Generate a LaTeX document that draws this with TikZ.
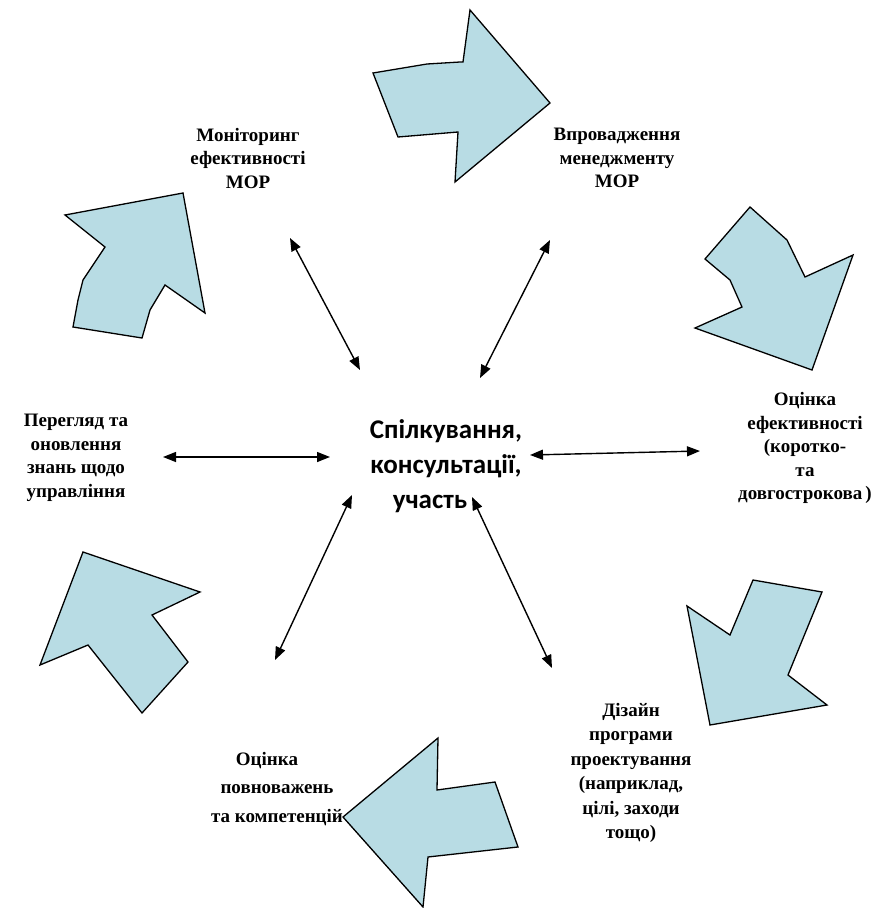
\documentclass[tikz,border=0pt]{standalone}
\usepackage{fontspec}
\setmainfont{Liberation Serif}
\newfontfamily\cfont{Carlito}
\usetikzlibrary{arrows.meta}
\definecolor{arrfill}{RGB}{184,220,228}
\begin{document}
\begin{tikzpicture}[x=1pt,y=-1pt,
 bigarrow/.style={fill=arrfill,draw=black,line width=1.3pt,line join=miter},
 lab/.style={font=\bfseries\fontsize{19}{23.5}\selectfont,align=center,inner sep=0pt},
 link/.style={{Triangle[length=13pt,width=10pt]}-{Triangle[length=13pt,width=10pt]},line width=1.4pt}]
\useasboundingbox (0,0) rectangle (896,908);
% big block arrows
\draw[bigarrow] (373,73) -- (427,64) -- (460,62) -- (463,62) -- (470,10) -- (550,103) -- (455,182) -- (458,132) -- (398,137) -- cycle;
\draw[bigarrow] (750,207) -- (787,240) -- (805,277) -- (853,255) -- (812,370) -- (695,328) -- (742,307) -- (730,280) -- (705,259) -- cycle;
\draw[bigarrow] (753,580) -- (822,592) -- (788,675) -- (827,705) -- (710,725) -- (687,606) -- (730,635) -- cycle;
\draw[bigarrow] (343,817) -- (438,738) -- (437,790) -- (495,782) -- (518,847) -- (428,857) -- (423,907) -- cycle;
\draw[bigarrow] (83,552) -- (200,592) -- (152,615) -- (188,662) -- (142,713) -- (88,645) -- (40,665) -- cycle;
\draw[bigarrow] (65,215) -- (183,193) -- (205,313) -- (165,285) -- (150,310) -- (142,338) -- (73,327) -- (78,300) -- (83,280) -- (105,247) -- cycle;
% labels
\node[lab] (mon) at (248,158) {Моніторинг\\ефективності\\МОР};
\node[lab] (vpr) at (617,158) {Впровадження\\менеджменту\\МОР};
\node[lab] (ots) at (805,448) {Оцінка\\ефективності\\(коротко-\\та\\довгострокова\,)};
\node[lab] (per) at (76,458) {Перегляд та\\оновлення\\знань щодо\\управління};
\node[lab,font=\bfseries\fontsize{19}{24.5}\selectfont] (diz) at (631,773) {Дізайн\\програми\\проектування\\(наприклад,\\цілі, заходи\\тощо)};
\node[lab,font=\bfseries\fontsize{19}{28.5}\selectfont] (pov) at (277,789) {Оцінка\hspace*{20pt}\\повноважень\\та компетенцій};
\node[font=\cfont\bfseries\fontsize{27}{35}\selectfont,align=center,inner sep=0pt] (cen) at (446,466) {Спілкування,\\консультації,\\участь\hspace*{32pt}};
% connectors
\coordinate (m1) at (290,238); \coordinate (m2) at (360,370);
\coordinate (v1) at (550,240); \coordinate (v2) at (480,378);
\coordinate (p1) at (163,457); \coordinate (p2) at (330,457);
\coordinate (o1) at (530,455); \coordinate (o2) at (700,451);
\coordinate (k1) at (352,495); \coordinate (k2) at (275,660);
\coordinate (d1) at (472,497); \coordinate (d2) at (552,668);
\draw[link] (m1) -- (m2);
\draw[link] (v1) -- (v2);
\draw[link] (p1) -- (p2);
\draw[link] (o1) -- (o2);
\draw[link] (k1) -- (k2);
\draw[link] (d1) -- (d2);
\end{tikzpicture}
\end{document}
